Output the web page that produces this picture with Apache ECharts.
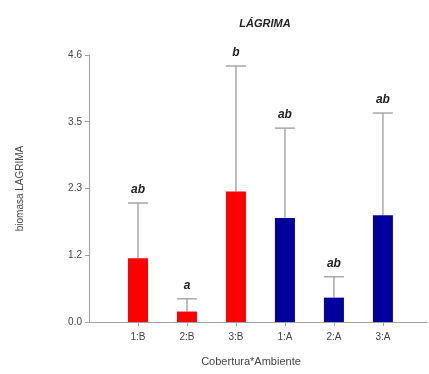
<!DOCTYPE html>
<html>
<head>
<meta charset="utf-8">
<script src="https://cdn.jsdelivr.net/npm/echarts@6/dist/echarts.min.js"></script>
<style>
  html, body { margin: 0; padding: 0; background: #fff; }
  #chart { width: 429px; height: 374px; }
</style>
</head>
<body>
<div id="chart"></div>
<script>
  var categories = ['1:B', '2:B', '3:B', '1:A', '2:A', '3:A'];
  var means = [1.10, 0.18, 2.25, 1.79, 0.42, 1.84];
  var upper = [2.05, 0.40, 4.41, 3.34, 0.78, 3.60];
  var letters = ['ab', 'a', 'b', 'ab', 'ab', 'ab'];
  var barColors = ['#ff0000', '#ff0000', '#ff0000', '#00009c', '#00009c', '#00009c'];
  var yTickLabels = ['0.0', '1.2', '2.3', '3.5', '4.6'];

  var chart = echarts.init(document.getElementById('chart'));

  chart.setOption({
    animation: false,
    title: {
      text: 'LÁGRIMA',
      left: 260,
      top: 13,
      textAlign: 'center',
      textStyle: { fontFamily: 'Liberation Sans', fontSize: 11, fontWeight: 'bold', fontStyle: 'italic', color: '#222' }
    },
    grid: { left: 89, top: 55, width: 338, height: 267 },
    xAxis: {
      type: 'value',
      min: -1,
      max: 5.9,
      interval: 1,
      splitLine: { show: false },
      axisLine: { lineStyle: { color: '#a0a0a0', width: 1 } },
      axisTick: { customValues: [0, 1, 2, 3, 4, 5], length: 4, lineStyle: { color: '#a0a0a0' } },
      axisLabel: {
        customValues: [0, 1, 2, 3, 4, 5],
        margin: 10,
        color: '#444',
        fontFamily: 'Liberation Sans',
        fontSize: 10,
        formatter: function (v) { return categories[Math.round(v)] || ''; }
      },
      name: 'Cobertura*Ambiente',
      nameLocation: 'middle',
      nameGap: 34,
      nameTextStyle: { color: '#444', fontFamily: 'Liberation Sans', fontSize: 11, padding: [0, 14, 0, 0] }
    },
    yAxis: {
      type: 'value',
      min: 0,
      max: 4.6,
      interval: 1.15,
      splitLine: { show: false },
      axisLine: { show: true, onZero: false, lineStyle: { color: '#a0a0a0', width: 1 } },
      axisTick: { show: true, length: 4, lineStyle: { color: '#a0a0a0' } },
      axisLabel: {
        margin: 7,
        color: '#444',
        fontFamily: 'Liberation Sans',
        fontSize: 10,
        formatter: function (v) { return yTickLabels[Math.round(v / 1.15)]; }
      },
      name: 'biomasa LAGRIMA',
      nameLocation: 'middle',
      nameGap: 64,
      nameTextStyle: { color: '#444', fontFamily: 'Liberation Sans', fontSize: 10 }
    },
    series: [
      {
        type: 'custom',
        z: 1,
        renderItem: function (params, api) {
          var i = api.value(0);
          var base = api.coord([i, api.value(1)]);
          var top = api.coord([i, api.value(2)]);
          return {
            type: 'group',
            children: [
              { type: 'line', shape: { x1: base[0], y1: base[1], x2: top[0], y2: top[1] }, style: { stroke: '#a8a8a8', lineWidth: 1.5 } },
              { type: 'line', shape: { x1: top[0] - 10, y1: top[1], x2: top[0] + 10, y2: top[1] }, style: { stroke: '#a8a8a8', lineWidth: 1.5 } },
              { type: 'text', x: top[0], y: top[1] - 7, style: { text: letters[i], align: 'center', verticalAlign: 'bottom', font: 'italic bold 12px "Liberation Sans"', fill: '#222' } }
            ]
          };
        },
        data: categories.map(function (c, i) { return [i, means[i], upper[i]]; })
      },
      {
        type: 'bar',
        z: 2,
        barWidth: 20,
        data: categories.map(function (c, i) {
          return { value: [i, means[i]], itemStyle: { color: barColors[i] } };
        })
      }
    ]
  });
</script>
</body>
</html>
